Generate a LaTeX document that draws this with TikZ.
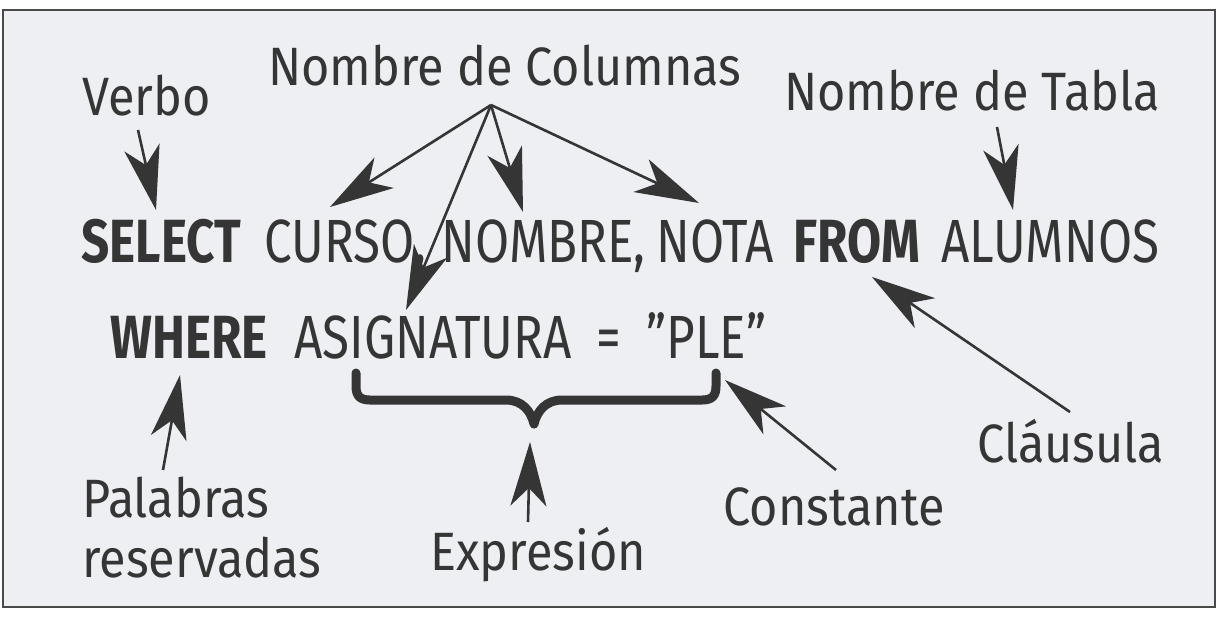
\documentclass[tikz,border=0pt]{standalone}
\usepackage{fontspec}
\setmainfont{Fira Sans}[FakeStretch=0.81]
\newfontfamily\etiqfamily{Fira Sans}[FakeStretch=0.9]
\usetikzlibrary{arrows.meta}

\definecolor{tinta}{HTML}{353535}
\definecolor{fondo}{HTML}{EEEFF2}
\definecolor{marco}{HTML}{4A4A4A}

\newcommand\sqlfont{\fontsize{30.5}{36}\selectfont}
\newcommand\etiqfont{\etiqfamily\fontsize{27}{30}\selectfont}

\tikzset{
  palabra/.style={anchor=base west, inner sep=0pt, text=tinta, font=\sqlfont},
  clave/.style={palabra, font=\sqlfont\bfseries},
  etiqueta/.style={anchor=base west, inner sep=0pt, text=tinta, font=\etiqfont, align=left},
  flecha/.style={-{Stealth[length=32pt,width=18pt,inset=9pt]}, line width=1.3pt, draw=tinta},
  llave/.style={line width=4.5pt, draw=tinta, line cap=round, line join=round}
}

\begin{document}
\begin{tikzpicture}[x=0.5pt,y=-0.5pt]

% Fondo y marco
  \useasboundingbox (0,0) rectangle (1220,616);
  \fill[white] (0,0) rectangle (1220,616);
  \draw[marco, line width=1.4pt, fill=fondo] (3,10) rectangle (1215,607);

% Consulta
  \node[clave]   (select)  at (81,262)  {SELECT};
  \node[palabra] (curso)   at (264,262) {CURSO,};
  \node[palabra] (nombre)  at (441,262) {NOMBRE,};
  \node[palabra] (nota)    at (656,262) {NOTA};
  \node[clave]   (from)    at (793,262) {FROM};
  \node[palabra] (alumnos) at (941,262) {ALUMNOS};
  \node[clave]   (where)   at (110,358) {WHERE};
  \node[palabra] (asig)    at (294,358) {ASIGNATURA};
  \node[palabra] (igual)   at (596,358) {=};
  \node[palabra] (ple)     at (646,358) {”PLE”};

% Etiquetas
  \node[etiqueta] (verbo)     at (82,115)  {Verbo};
  \node[etiqueta] (colnames)  at (268,85)  {Nombre de Columnas};
  \node[etiqueta] (tabla)     at (784,110) {Nombre de Tabla};
  \node[etiqueta] (palabras)  at (82,577)  {Palabras\\reservadas};
  \node[etiqueta] (expresion) at (430,570) {Expresión};
  \node[etiqueta] (constante) at (723,525) {Constante};
  \node[etiqueta] (clausula)  at (977,462) {Cláusula};

% Llave
  \coordinate (llaveL) at (356,373);
  \coordinate (llaveR) at (716,373);
  \coordinate (llavepunta) at (534,424);
  \draw[llave] (llaveL) -- (356,386) .. controls (356,396) and (360,400) .. (370,400)
    -- (506,400) .. controls (522,400) and (531,411) .. (llavepunta)
    .. controls (537,411) and (546,400) .. (562,400) -- (702,400)
    .. controls (712,400) and (716,396) .. (716,386) -- (llaveR);

% Flechas
  \coordinate (apex) at ([shift={(223,20)}]colnames.base west);
  \foreach \dest/\dx/\dy in {curso/66/-55, nombre/82/-50, nota/43/-59, asig/112/-48}
    \draw[flecha] (apex) -- ([shift={(\dx,\dy)}]\dest.base west);

  \draw[flecha] ([shift={(56,15)}]verbo.base west) -- ([shift={(75,-52)}]select.base west);
  \draw[flecha] ([shift={(213,17)}]tabla.base west) -- ([shift={(72,-52)}]alumnos.base west);
  \draw[flecha] ([shift={(93,-50)}]clausula.base west) -- ([shift={(79,15)}]from.base west);
  \draw[flecha] ([shift={(113,-55)}]constante.base west) -- ([shift={(79,22)}]ple.base west);
  \draw[flecha] ([shift={(98,-48)}]expresion.base west) -- ([shift={(-4,18)}]llavepunta);
  \draw[flecha] ([shift={(81,-107)}]palabras.base west) -- ([shift={(70,17)}]where.base west);

\end{tikzpicture}
\end{document}
